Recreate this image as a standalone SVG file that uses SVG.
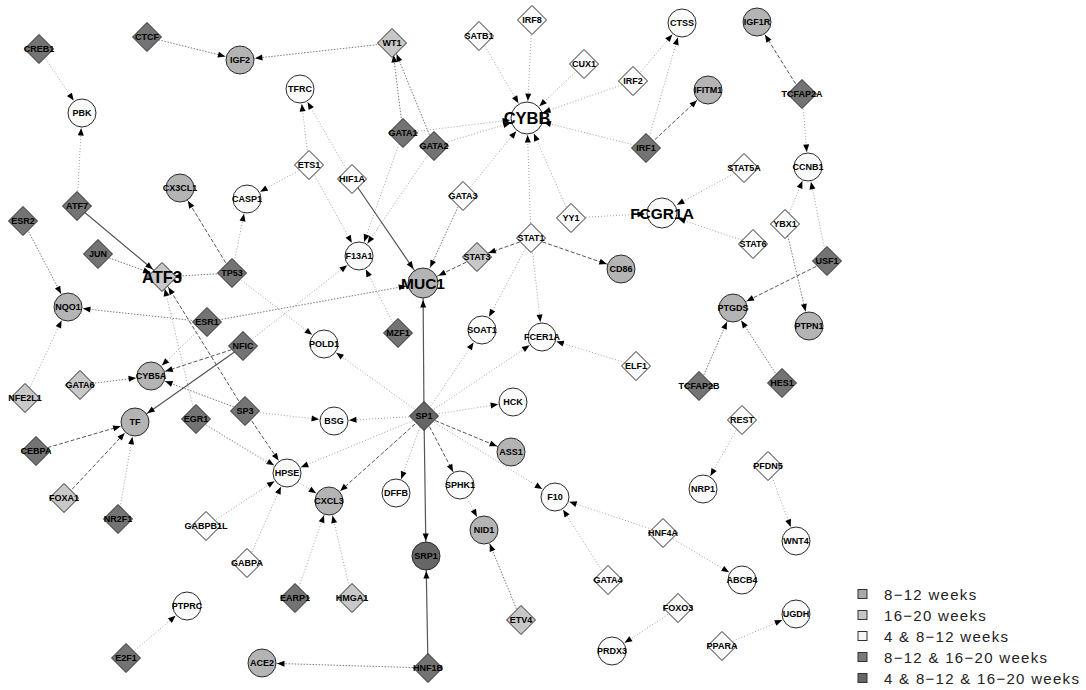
<svg xmlns="http://www.w3.org/2000/svg" xmlns:xlink="http://www.w3.org/1999/xlink" width="1086" height="690" viewBox="0 0 1086 690">
<style>
.e{fill:none;stroke-width:1}
.d{stroke:#a2a2a2;stroke-dasharray:1 2}
.m{stroke:#7c7c7c;stroke-dasharray:1.5 1.5}
.k{stroke:#555;stroke-dasharray:4 2}
.s{stroke:#555;stroke-width:1.2}
.tc{marker-end:url(#ac)}
.tb{marker-end:url(#ab)}
.td{marker-end:url(#ad)}
.n circle,.n use{stroke:#2a2a2a;stroke-width:1}
.c1{fill:#b4b4b4}
.c2{fill:#c8c8c8}
.c3{fill:#fbfbfb}
.c4{fill:#737373}
.c5{fill:#666}
.n text{font-family:"Liberation Sans",Arial,sans-serif;font-weight:bold;font-size:9px;fill:#000;text-anchor:middle}
.n text.big{font-size:15.5px}
.n text.bigger{font-size:16.5px}
.lg text{font-family:"Liberation Sans",Arial,sans-serif;font-size:15px;letter-spacing:1.3px;fill:#222}
.lg rect{stroke:#333;stroke-width:1}
</style>
<defs>
<marker id="ac" markerUnits="userSpaceOnUse" markerWidth="30" markerHeight="8" viewBox="0 0 30 8" refX="22.5" refY="4" orient="auto" overflow="visible"><path d="M0,1 L7.5,4 L0,7 Z" fill="#000"/></marker>
<marker id="ab" markerUnits="userSpaceOnUse" markerWidth="30" markerHeight="8" viewBox="0 0 30 8" refX="24.5" refY="4" orient="auto" overflow="visible"><path d="M0,1 L7.5,4 L0,7 Z" fill="#000"/></marker>
<marker id="ad" markerUnits="userSpaceOnUse" markerWidth="30" markerHeight="8" viewBox="0 0 30 8" refX="19.5" refY="4" orient="auto" overflow="visible"><path d="M0,1 L7.5,4 L0,7 Z" fill="#000"/></marker>
<path id="dia" d="M0,-14.5 L14.5,0 L0,14.5 L-14.5,0 Z"/>
</defs>
<rect width="1086" height="690" fill="#fff"/>
<g id="connectors">
<line class="e m tc" x1="147" y1="37" x2="240" y2="60"/>
<line class="e m tc" x1="392" y1="43" x2="240" y2="60"/>
<line class="e d tc" x1="39" y1="49" x2="82" y2="113"/>
<line class="e d tc" x1="77" y1="206" x2="82" y2="113"/>
<line class="e s td" x1="77" y1="206" x2="162" y2="277"/>
<line class="e m td" x1="98" y1="254" x2="162" y2="277"/>
<line class="e m td" x1="232" y1="273" x2="162" y2="277"/>
<line class="e d td" x1="196" y1="419" x2="162" y2="277"/>
<line class="e k td" x1="245" y1="411" x2="162" y2="277"/>
<line class="e k tc" x1="232" y1="273" x2="180" y2="188"/>
<line class="e d tc" x1="232" y1="273" x2="247" y2="199"/>
<line class="e d tc" x1="309" y1="165" x2="247" y2="199"/>
<line class="e m td" x1="403" y1="133" x2="392" y2="43"/>
<line class="e m td" x1="434" y1="146" x2="392" y2="43"/>
<line class="e d tb" x1="479" y1="36" x2="527" y2="118"/>
<line class="e d tb" x1="532" y1="20" x2="527" y2="118"/>
<line class="e d tb" x1="584" y1="64" x2="527" y2="118"/>
<line class="e d tb" x1="633" y1="81" x2="527" y2="118"/>
<line class="e d tb" x1="646" y1="148" x2="527" y2="118"/>
<line class="e d tb" x1="403" y1="133" x2="527" y2="118"/>
<line class="e d tb" x1="434" y1="146" x2="527" y2="118"/>
<line class="e d tb" x1="463" y1="196" x2="527" y2="118"/>
<line class="e d tb" x1="571" y1="218" x2="527" y2="118"/>
<line class="e d tb" x1="531" y1="238" x2="527" y2="118"/>
<line class="e d tc" x1="309" y1="165" x2="300" y2="89"/>
<line class="e d tc" x1="352" y1="179" x2="300" y2="89"/>
<line class="e d tc" x1="309" y1="165" x2="359" y2="256"/>
<line class="e d tc" x1="403" y1="133" x2="359" y2="256"/>
<line class="e d tc" x1="434" y1="146" x2="359" y2="256"/>
<line class="e s tb" x1="352" y1="179" x2="423" y2="283"/>
<line class="e m tb" x1="463" y1="196" x2="423" y2="283"/>
<line class="e k tb" x1="477" y1="257" x2="423" y2="283"/>
<line class="e m tb" x1="207" y1="322" x2="423" y2="283"/>
<line class="e s tb" x1="424" y1="416" x2="423" y2="283"/>
<line class="e k td" x1="531" y1="238" x2="477" y2="257"/>
<line class="e k tc" x1="531" y1="238" x2="621" y2="269"/>
<line class="e d tc" x1="531" y1="238" x2="482" y2="330"/>
<line class="e d tc" x1="531" y1="238" x2="542" y2="337"/>
<line class="e d tc" x1="633" y1="81" x2="682" y2="23"/>
<line class="e d tc" x1="646" y1="148" x2="682" y2="23"/>
<line class="e k tc" x1="646" y1="148" x2="708" y2="90"/>
<line class="e k tc" x1="802" y1="94" x2="757" y2="22"/>
<line class="e d tc" x1="802" y1="94" x2="808" y2="167"/>
<line class="e d tc" x1="785" y1="224" x2="808" y2="167"/>
<line class="e d tc" x1="827" y1="261" x2="808" y2="167"/>
<line class="e d tb" x1="744" y1="168" x2="662" y2="213"/>
<line class="e d tb" x1="753" y1="244" x2="662" y2="213"/>
<line class="e d tb" x1="571" y1="218" x2="662" y2="213"/>
<line class="e m tc" x1="785" y1="224" x2="809" y2="326"/>
<line class="e k tc" x1="827" y1="261" x2="733" y2="308"/>
<line class="e m tc" x1="699" y1="386" x2="733" y2="308"/>
<line class="e m tc" x1="782" y1="383" x2="733" y2="308"/>
<line class="e d tc" x1="636" y1="366" x2="542" y2="337"/>
<line class="e m tc" x1="23" y1="221" x2="68" y2="307"/>
<line class="e d tc" x1="25" y1="398" x2="68" y2="307"/>
<line class="e m tc" x1="207" y1="322" x2="68" y2="307"/>
<line class="e m tc" x1="80" y1="385" x2="151" y2="376"/>
<line class="e d tc" x1="207" y1="322" x2="151" y2="376"/>
<line class="e k tc" x1="243" y1="346" x2="151" y2="376"/>
<line class="e m tc" x1="245" y1="411" x2="151" y2="376"/>
<line class="e s tc" x1="243" y1="346" x2="135" y2="422"/>
<line class="e k tc" x1="36" y1="451" x2="135" y2="422"/>
<line class="e k tc" x1="64" y1="498" x2="135" y2="422"/>
<line class="e d tc" x1="118" y1="519" x2="135" y2="422"/>
<line class="e d tc" x1="232" y1="273" x2="324" y2="344"/>
<line class="e d tc" x1="424" y1="416" x2="324" y2="344"/>
<line class="e d tc" x1="424" y1="416" x2="482" y2="330"/>
<line class="e d tc" x1="424" y1="416" x2="542" y2="337"/>
<line class="e d tc" x1="424" y1="416" x2="513" y2="402"/>
<line class="e k tc" x1="424" y1="416" x2="511" y2="452"/>
<line class="e d tc" x1="424" y1="416" x2="334" y2="421"/>
<line class="e d tc" x1="245" y1="411" x2="334" y2="421"/>
<line class="e d tc" x1="424" y1="416" x2="287" y2="473"/>
<line class="e k tc" x1="245" y1="411" x2="287" y2="473"/>
<line class="e d tc" x1="196" y1="419" x2="287" y2="473"/>
<line class="e d tc" x1="206" y1="526" x2="287" y2="473"/>
<line class="e d tc" x1="247" y1="563" x2="287" y2="473"/>
<line class="e k tc" x1="424" y1="416" x2="329" y2="501"/>
<line class="e d tc" x1="196" y1="419" x2="329" y2="501"/>
<line class="e d tc" x1="295" y1="598" x2="329" y2="501"/>
<line class="e d tc" x1="352" y1="598" x2="329" y2="501"/>
<line class="e d tc" x1="424" y1="416" x2="396" y2="493"/>
<line class="e k tc" x1="424" y1="416" x2="460" y2="485"/>
<line class="e d tc" x1="460" y1="485" x2="484" y2="530"/>
<line class="e m tc" x1="521" y1="620" x2="484" y2="530"/>
<line class="e s tc" x1="424" y1="416" x2="426" y2="556"/>
<line class="e s tc" x1="428" y1="668" x2="426" y2="556"/>
<line class="e m tc" x1="428" y1="668" x2="262" y2="663"/>
<line class="e d tc" x1="424" y1="416" x2="555" y2="497"/>
<line class="e d tc" x1="663" y1="533" x2="555" y2="497"/>
<line class="e d tc" x1="608" y1="580" x2="555" y2="497"/>
<line class="e d tc" x1="663" y1="533" x2="742" y2="580"/>
<line class="e d tc" x1="742" y1="420" x2="703" y2="489"/>
<line class="e d tc" x1="768" y1="466" x2="796" y2="541"/>
<line class="e d tc" x1="678" y1="608" x2="612" y2="651"/>
<line class="e d tc" x1="722" y1="646" x2="796" y2="614"/>
<line class="e d tc" x1="126" y1="658" x2="187" y2="606"/>
<line class="e d tc" x1="398" y1="333" x2="359" y2="256"/>
<line class="e d tc" x1="243" y1="346" x2="359" y2="256"/>
</g>
<g id="nodes">
<g id="n-IGF2" class="n c1" transform="translate(240,60)"><circle r="14"/><text y="3">IGF2</text></g>
<g id="n-PBK" class="n c3" transform="translate(82,113)"><circle r="14"/><text y="3">PBK</text></g>
<g id="n-TFRC" class="n c3" transform="translate(300,89)"><circle r="14"/><text y="3">TFRC</text></g>
<g id="n-CYBB" class="n c3" transform="translate(527,118)"><circle r="16"/><text class="bigger" y="6">CYBB</text></g>
<g id="n-CTSS" class="n c3" transform="translate(682,23)"><circle r="14"/><text y="3">CTSS</text></g>
<g id="n-IGF1R" class="n c1" transform="translate(757,22)"><circle r="14"/><text y="3">IGF1R</text></g>
<g id="n-IFITM1" class="n c1" transform="translate(708,90)"><circle r="14"/><text y="3">IFITM1</text></g>
<g id="n-CCNB1" class="n c3" transform="translate(808,167)"><circle r="14"/><text y="3">CCNB1</text></g>
<g id="n-FCGR1A" class="n c3" transform="translate(662,213)"><circle r="15"/><text class="big" y="5.5">FCGR1A</text></g>
<g id="n-CX3CL1" class="n c1" transform="translate(180,188)"><circle r="14"/><text y="3">CX3CL1</text></g>
<g id="n-CASP1" class="n c3" transform="translate(247,199)"><circle r="14"/><text y="3">CASP1</text></g>
<g id="n-F13A1" class="n c3" transform="translate(359,256)"><circle r="14"/><text y="3">F13A1</text></g>
<g id="n-MUC1" class="n c1" transform="translate(423,283)"><circle r="15"/><text class="big" y="5.5">MUC1</text></g>
<g id="n-NQO1" class="n c1" transform="translate(68,307)"><circle r="14"/><text y="3">NQO1</text></g>
<g id="n-CD86" class="n c1" transform="translate(621,269)"><circle r="14"/><text y="3">CD86</text></g>
<g id="n-SOAT1" class="n c3" transform="translate(482,330)"><circle r="14"/><text y="3">SOAT1</text></g>
<g id="n-FCER1A" class="n c3" transform="translate(542,337)"><circle r="14"/><text y="3">FCER1A</text></g>
<g id="n-POLD1" class="n c3" transform="translate(324,344)"><circle r="14"/><text y="3">POLD1</text></g>
<g id="n-PTGDS" class="n c1" transform="translate(733,308)"><circle r="14"/><text y="3">PTGDS</text></g>
<g id="n-PTPN1" class="n c1" transform="translate(809,326)"><circle r="14"/><text y="3">PTPN1</text></g>
<g id="n-CYB5A" class="n c1" transform="translate(151,376)"><circle r="14"/><text y="3">CYB5A</text></g>
<g id="n-HCK" class="n c3" transform="translate(513,402)"><circle r="14"/><text y="3">HCK</text></g>
<g id="n-BSG" class="n c3" transform="translate(334,421)"><circle r="14"/><text y="3">BSG</text></g>
<g id="n-TF" class="n c1" transform="translate(135,422)"><circle r="14"/><text y="3">TF</text></g>
<g id="n-ASS1" class="n c1" transform="translate(511,452)"><circle r="14"/><text y="3">ASS1</text></g>
<g id="n-HPSE" class="n c3" transform="translate(287,473)"><circle r="14"/><text y="3">HPSE</text></g>
<g id="n-CXCL3" class="n c1" transform="translate(329,501)"><circle r="14"/><text y="3">CXCL3</text></g>
<g id="n-DFFB" class="n c3" transform="translate(396,493)"><circle r="14"/><text y="3">DFFB</text></g>
<g id="n-SPHK1" class="n c3" transform="translate(460,485)"><circle r="14"/><text y="3">SPHK1</text></g>
<g id="n-F10" class="n c3" transform="translate(555,497)"><circle r="14"/><text y="3">F10</text></g>
<g id="n-NRP1" class="n c3" transform="translate(703,489)"><circle r="14"/><text y="3">NRP1</text></g>
<g id="n-NID1" class="n c1" transform="translate(484,530)"><circle r="14"/><text y="3">NID1</text></g>
<g id="n-SRP1" class="n c5" transform="translate(426,556)"><circle r="14"/><text y="3">SRP1</text></g>
<g id="n-WNT4" class="n c3" transform="translate(796,541)"><circle r="14"/><text y="3">WNT4</text></g>
<g id="n-ABCB4" class="n c3" transform="translate(742,580)"><circle r="14"/><text y="3">ABCB4</text></g>
<g id="n-PTPRC" class="n c3" transform="translate(187,606)"><circle r="14"/><text y="3">PTPRC</text></g>
<g id="n-PRDX3" class="n c3" transform="translate(612,651)"><circle r="14"/><text y="3">PRDX3</text></g>
<g id="n-UGDH" class="n c3" transform="translate(796,614)"><circle r="14"/><text y="3">UGDH</text></g>
<g id="n-ACE2" class="n c1" transform="translate(262,663)"><circle r="14"/><text y="3">ACE2</text></g>

<g id="n-CTCF" class="n c4" transform="translate(147,37)"><use xlink:href="#dia"/><text y="3">CTCF</text></g>
<g id="n-CREB1" class="n c4" transform="translate(39,49)"><use xlink:href="#dia"/><text y="3">CREB1</text></g>
<g id="n-WT1" class="n c2" transform="translate(392,43)"><use xlink:href="#dia"/><text y="3">WT1</text></g>
<g id="n-IRF8" class="n c3" transform="translate(532,20)"><use xlink:href="#dia"/><text y="3">IRF8</text></g>
<g id="n-SATB1" class="n c3" transform="translate(479,36)"><use xlink:href="#dia"/><text y="3">SATB1</text></g>
<g id="n-CUX1" class="n c3" transform="translate(584,64)"><use xlink:href="#dia"/><text y="3">CUX1</text></g>
<g id="n-IRF2" class="n c3" transform="translate(633,81)"><use xlink:href="#dia"/><text y="3">IRF2</text></g>
<g id="n-TCFAP2A" class="n c4" transform="translate(802,94)"><use xlink:href="#dia"/><text y="3">TCFAP2A</text></g>
<g id="n-GATA1" class="n c4" transform="translate(403,133)"><use xlink:href="#dia"/><text y="3">GATA1</text></g>
<g id="n-GATA2" class="n c4" transform="translate(434,146)"><use xlink:href="#dia"/><text y="3">GATA2</text></g>
<g id="n-IRF1" class="n c4" transform="translate(646,148)"><use xlink:href="#dia"/><text y="3">IRF1</text></g>
<g id="n-ETS1" class="n c3" transform="translate(309,165)"><use xlink:href="#dia"/><text y="3">ETS1</text></g>
<g id="n-HIF1A" class="n c3" transform="translate(352,179)"><use xlink:href="#dia"/><text y="3">HIF1A</text></g>
<g id="n-STAT5A" class="n c3" transform="translate(744,168)"><use xlink:href="#dia"/><text y="3">STAT5A</text></g>
<g id="n-GATA3" class="n c3" transform="translate(463,196)"><use xlink:href="#dia"/><text y="3">GATA3</text></g>
<g id="n-ATF7" class="n c4" transform="translate(77,206)"><use xlink:href="#dia"/><text y="3">ATF7</text></g>
<g id="n-ESR2" class="n c4" transform="translate(23,221)"><use xlink:href="#dia"/><text y="3">ESR2</text></g>
<g id="n-YY1" class="n c3" transform="translate(571,218)"><use xlink:href="#dia"/><text y="3">YY1</text></g>
<g id="n-YBX1" class="n c3" transform="translate(785,224)"><use xlink:href="#dia"/><text y="3">YBX1</text></g>
<g id="n-STAT1" class="n c3" transform="translate(531,238)"><use xlink:href="#dia"/><text y="3">STAT1</text></g>
<g id="n-STAT6" class="n c3" transform="translate(753,244)"><use xlink:href="#dia"/><text y="3">STAT6</text></g>
<g id="n-JUN" class="n c4" transform="translate(98,254)"><use xlink:href="#dia"/><text y="3">JUN</text></g>
<g id="n-USF1" class="n c4" transform="translate(827,261)"><use xlink:href="#dia"/><text y="3">USF1</text></g>
<g id="n-STAT3" class="n c2" transform="translate(477,257)"><use xlink:href="#dia"/><text y="3">STAT3</text></g>
<g id="n-TP53" class="n c4" transform="translate(232,273)"><use xlink:href="#dia"/><text y="3">TP53</text></g>
<g id="n-ATF3" class="n c2" transform="translate(162,277)"><use xlink:href="#dia"/><text class="bigger" y="6">ATF3</text></g>
<g id="n-ESR1" class="n c4" transform="translate(207,322)"><use xlink:href="#dia"/><text y="3">ESR1</text></g>
<g id="n-MZF1" class="n c4" transform="translate(398,333)"><use xlink:href="#dia"/><text y="3">MZF1</text></g>
<g id="n-NFIC" class="n c4" transform="translate(243,346)"><use xlink:href="#dia"/><text y="3">NFIC</text></g>
<g id="n-ELF1" class="n c3" transform="translate(636,366)"><use xlink:href="#dia"/><text y="3">ELF1</text></g>
<g id="n-GATA6" class="n c2" transform="translate(80,385)"><use xlink:href="#dia"/><text y="3">GATA6</text></g>
<g id="n-HES1" class="n c4" transform="translate(782,383)"><use xlink:href="#dia"/><text y="3">HES1</text></g>
<g id="n-TCFAP2B" class="n c4" transform="translate(699,386)"><use xlink:href="#dia"/><text y="3">TCFAP2B</text></g>
<g id="n-NFE2L1" class="n c2" transform="translate(25,398)"><use xlink:href="#dia"/><text y="3">NFE2L1</text></g>
<g id="n-SP3" class="n c4" transform="translate(245,411)"><use xlink:href="#dia"/><text y="3">SP3</text></g>
<g id="n-SP1" class="n c5" transform="translate(424,416)"><use xlink:href="#dia"/><text y="3">SP1</text></g>
<g id="n-EGR1" class="n c4" transform="translate(196,419)"><use xlink:href="#dia"/><text y="3">EGR1</text></g>
<g id="n-REST" class="n c3" transform="translate(742,420)"><use xlink:href="#dia"/><text y="3">REST</text></g>
<g id="n-CEBPA" class="n c4" transform="translate(36,451)"><use xlink:href="#dia"/><text y="3">CEBPA</text></g>
<g id="n-PFDN5" class="n c3" transform="translate(768,466)"><use xlink:href="#dia"/><text y="3">PFDN5</text></g>
<g id="n-FOXA1" class="n c2" transform="translate(64,498)"><use xlink:href="#dia"/><text y="3">FOXA1</text></g>
<g id="n-NR2F1" class="n c4" transform="translate(118,519)"><use xlink:href="#dia"/><text y="3">NR2F1</text></g>
<g id="n-GABPB1L" class="n c3" transform="translate(206,526)"><use xlink:href="#dia"/><text y="3">GABPB1L</text></g>
<g id="n-HNF4A" class="n c3" transform="translate(663,533)"><use xlink:href="#dia"/><text y="3">HNF4A</text></g>
<g id="n-GABPA" class="n c3" transform="translate(247,563)"><use xlink:href="#dia"/><text y="3">GABPA</text></g>
<g id="n-GATA4" class="n c3" transform="translate(608,580)"><use xlink:href="#dia"/><text y="3">GATA4</text></g>
<g id="n-EARP1" class="n c4" transform="translate(295,598)"><use xlink:href="#dia"/><text y="3">EARP1</text></g>
<g id="n-HMGA1" class="n c2" transform="translate(352,598)"><use xlink:href="#dia"/><text y="3">HMGA1</text></g>
<g id="n-FOXO3" class="n c3" transform="translate(678,608)"><use xlink:href="#dia"/><text y="3">FOXO3</text></g>
<g id="n-ETV4" class="n c2" transform="translate(521,620)"><use xlink:href="#dia"/><text y="3">ETV4</text></g>
<g id="n-PPARA" class="n c3" transform="translate(722,646)"><use xlink:href="#dia"/><text y="3">PPARA</text></g>
<g id="n-E2F1" class="n c4" transform="translate(126,658)"><use xlink:href="#dia"/><text y="3">E2F1</text></g>
<g id="n-HNF1B" class="n c4" transform="translate(428,668)"><use xlink:href="#dia"/><text y="3">HNF1B</text></g>
</g>
<g id="legend" class="lg">
<rect x="858" y="589.5" width="9" height="9" fill="#a9a9a9"/><text x="884" y="600">8−12 weeks</text>
<rect x="858" y="610.5" width="9" height="9" fill="#c6c6c6"/><text x="884" y="621">16−20 weeks</text>
<rect x="858" y="631.5" width="9" height="9" fill="#f6f6f6"/><text x="884" y="642">4 &amp; 8−12 weeks</text>
<rect x="858" y="652.5" width="9" height="9" fill="#7a7a7a"/><text x="884" y="663">8−12 &amp; 16−20 weeks</text>
<rect x="858" y="673.5" width="9" height="9" fill="#666"/><text x="884" y="684">4 &amp; 8−12 &amp; 16−20 weeks</text>
</g>
</svg>
